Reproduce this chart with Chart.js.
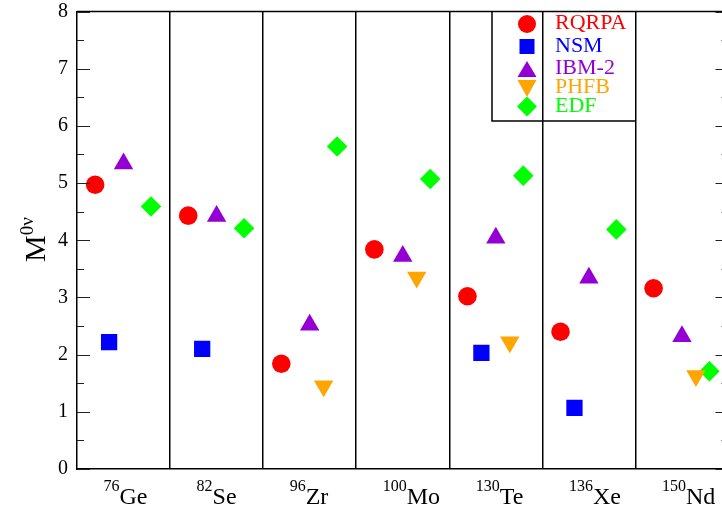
<!DOCTYPE html>
<html>
<head>
<meta charset="utf-8">
<title>M0v nuclear matrix elements</title>
<script src="https://cdn.jsdelivr.net/npm/chart.js@4.4.1/dist/chart.umd.min.js"></script>
<style>
  html, body { margin: 0; padding: 0; background: #fff; overflow: hidden; }
  #wrap { width: 740px; height: 514px; }
</style>
</head>
<body>
<div id="wrap"><canvas id="nmeChart" width="740" height="514"></canvas></div>
<script>
// categories (isotopes)
const massNumbers = ["76", "82", "96", "100", "130", "136", "150"];
const elements = ["Ge", "Se", "Zr", "Mo", "Te", "Xe", "Nd"];
const yTicks = [0, 1, 2, 3, 4, 5, 6, 7, 8];

// series values, null = no calculation
const rqrpa = [4.97, 4.43, 1.84, 3.84, 3.02, 2.40, 3.16];
const nsm   = [2.22, 2.10, null, null, 2.03, 1.07, null];
const ibm2  = [5.34, 4.42, 2.52, 3.72, 4.04, 3.34, 2.32];
const phfb  = [null, null, 1.45, 3.35, 2.22, null, 1.63];
const edf   = [4.59, 4.21, 5.64, 5.07, 5.13, 4.19, 1.71];

const seriesNames = ["RQRPA", "NSM", "IBM-2", "PHFB", "EDF"];
const seriesColors = ["#ff0000", "#0000ff", "#9400d3", "#ffa500", "#00ff00"];
const seriesShapes = ["circle", "rect", "triangle", "triangle", "rectRot"];
const seriesRotation = [0, 0, 0, 180, 0];
const seriesRadius = [9.3, 11.5, 11.2, 11.2, 10.3];
const seriesOffset = [-0.305, -0.155, 0, 0.15, 0.295];
const allSeries = [rqrpa, nsm, ibm2, phfb, edf];

const serif = "'Liberation Serif', 'Times New Roman', serif";

function toPoints(values, offset) {
    const pts = [];
    values.forEach((v, i) => {
        if (v !== null) pts.push({ x: i + 0.5 + offset, y: v });
    });
    return pts;
}

const datasets = allSeries.map((values, k) => ({
    label: seriesNames[k],
    data: toPoints(values, seriesOffset[k]),
    pointStyle: seriesShapes[k],
    rotation: seriesRotation[k],
    pointRadius: seriesRadius[k],
    pointHoverRadius: seriesRadius[k],
    backgroundColor: seriesColors[k],
    borderColor: seriesColors[k],
    borderWidth: 0,
    showLine: false,
}));

// simple marker for the legend box
function drawMarker(ctx, shape, x, y, color) {
    ctx.save();
    ctx.fillStyle = color;
    ctx.beginPath();
    if (shape === "circle") {
        ctx.arc(x, y, 9, 0, Math.PI * 2);
    } else if (shape === "rect") {
        ctx.rect(x - 7.5, y - 7.5, 15, 15);
    } else if (shape === "up") {
        ctx.moveTo(x, y - 8); ctx.lineTo(x + 9.5, y + 8); ctx.lineTo(x - 9.5, y + 8);
    } else if (shape === "down") {
        ctx.moveTo(x, y + 8.5); ctx.lineTo(x + 9.5, y - 8.5); ctx.lineTo(x - 9.5, y - 8.5);
    } else {
        ctx.moveTo(x, y - 10); ctx.lineTo(x + 10, y); ctx.lineTo(x, y + 10); ctx.lineTo(x - 10, y);
    }
    ctx.closePath();
    ctx.fill();
    ctx.restore();
}

const decorations = {
    id: "decorations",
    afterDraw(chart) {
        const ctx = chart.ctx;
        const area = chart.chartArea;
        const yScale = chart.scales.y;
        const xScale = chart.scales.x;
        ctx.save();

        // frame top + right
        ctx.strokeStyle = "#000";
        ctx.lineWidth = 1.5;
        ctx.beginPath();
        ctx.moveTo(area.left, area.top);
        ctx.lineTo(area.right, area.top);
        ctx.lineTo(area.right, area.bottom);
        ctx.stroke();

        // inward ticks, major every 1, minor every 0.5
        ctx.lineWidth = 1.2;
        ctx.strokeStyle = "#222";
        for (let v = 0; v <= 8; v += 0.5) {
            const py = Math.round(yScale.getPixelForValue(v)) + 0.5;
            const len = Number.isInteger(v) ? 13 : 7;
            ctx.beginPath();
            ctx.moveTo(area.left, py); ctx.lineTo(area.left + len, py);
            ctx.moveTo(area.right, py); ctx.lineTo(area.right - len, py);
            ctx.stroke();
        }

        // isotope labels with mass number as superscript
        ctx.fillStyle = "#000";
        ctx.textBaseline = "alphabetic";
        ctx.textAlign = "left";
        elements.forEach((el, i) => {
            const cx = xScale.getPixelForValue(i + 0.5);
            const x0 = cx - 20;
            ctx.font = "16px " + serif;
            ctx.fillText(massNumbers[i], x0, 491);
            const w = ctx.measureText(massNumbers[i]).width;
            ctx.font = "24px " + serif;
            ctx.fillText(el, x0 + w, 504);
        });

        // y axis title M^0v
        ctx.save();
        ctx.translate(45, 262);
        ctx.rotate(-Math.PI / 2);
        ctx.font = "30px " + serif;
        ctx.fillText("M", 0, 0);
        const mw = ctx.measureText("M").width;
        ctx.font = "19px " + serif;
        ctx.fillText("0\u03bd", mw, -12);
        ctx.restore();

        // legend box, right side sits on the Xe|Nd divider
        const boxRight = Math.round(xScale.getPixelForValue(6));
        ctx.lineWidth = 1.5;
        ctx.strokeStyle = "#000";
        ctx.beginPath();
        ctx.moveTo(492, area.top);
        ctx.lineTo(492, 121);
        ctx.lineTo(boxRight, 121);
        ctx.stroke();

        const legendShapes = ["circle", "rect", "up", "down", "diamond"];
        const markerY = [24, 46.5, 69, 88.5, 106.5];
        const textY = [22, 45, 67, 86, 105];
        ctx.font = "22px " + serif;
        ctx.textBaseline = "middle";
        seriesNames.forEach((name, k) => {
            drawMarker(ctx, legendShapes[k], 527, markerY[k], seriesColors[k]);
            ctx.fillStyle = seriesColors[k];
            ctx.fillText(name, 555, textY[k] + 1);
        });

        ctx.restore();
    },
};

const chart = new Chart(document.getElementById("nmeChart"), {
    type: "scatter",
    data: { datasets: datasets },
    options: {
        responsive: false,
        animation: false,
        events: [],
        layout: { padding: { top: 9, right: 7, left: 0, bottom: 0 } },
        plugins: {
            legend: { display: false },
            tooltip: { enabled: false },
        },
        scales: {
            x: {
                type: "linear",
                min: 0,
                max: 7,
                afterBuildTicks: (scale) => {
                    scale.ticks = [1, 2, 3, 4, 5, 6].map((v) => ({ value: v }));
                },
                afterFit: (scale) => {
                    scale.height = 45;
                    scale.paddingLeft = 0;
                    scale.paddingRight = 0;
                },
                ticks: { display: false },
                grid: { color: "#000", lineWidth: 1.5, drawTicks: false },
                border: { display: true, color: "#000", width: 1.5 },
            },
            y: {
                min: 0,
                max: 8,
                afterBuildTicks: (scale) => {
                    scale.ticks = yTicks.map((v) => ({ value: v }));
                },
                afterFit: (scale) => {
                    scale.width = 77;
                    scale.paddingTop = 0;
                    scale.paddingBottom = 0;
                },
                ticks: {
                    color: "#000",
                    padding: 9,
                    font: { family: serif, size: 20 },
                },
                grid: { drawOnChartArea: false, drawTicks: false },
                border: { display: true, color: "#000", width: 1.5 },
            },
        },
    },
    plugins: [decorations],
});
</script>
</body>
</html>
